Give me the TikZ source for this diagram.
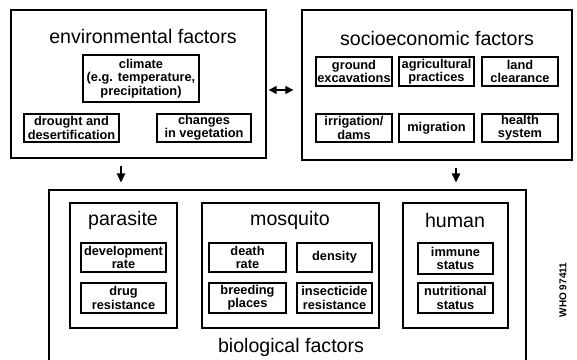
\documentclass[tikz,border=0pt]{standalone}
\usepackage{fontspec}
\setmainfont{Liberation Sans}
\usetikzlibrary{arrows.meta}
\tikzset{
  outer/.style={draw, line width=1.3pt, inner sep=0pt},
  inbox/.style={draw, line width=1.4pt, inner sep=0pt, align=center,
    font=\fontsize{12.8}{13.2}\selectfont\bfseries},
  ttl/.style={inner sep=0pt, font=\fontsize{19.6}{22}\selectfont},
  arr/.style={line width=1.3pt, -{Triangle[length=9pt,width=8.5pt]}},
  darr/.style={line width=1.3pt, {Triangle[length=8pt,width=8pt]}-{Triangle[length=8pt,width=8pt]}}
}
\begin{document}
\begin{tikzpicture}[x=1pt,y=-1pt]
\useasboundingbox (0,0) rectangle (577,359);
\clip (0,0) rectangle (577,359);
% environmental
\node[outer, minimum width=255pt, minimum height=148pt] (env) at (138.5,84) {};
\node[ttl] (envt) at (143,36) {environmental factors};
\node[inbox, minimum width=116pt, minimum height=47pt] (clim) at (141,78.5) {climate\\(e.g. temperature,\\precipitation)};
\node[inbox, minimum width=95pt, minimum height=28pt] (drou) at (71.5,128) {drought and\\desertification};
\node[inbox, minimum width=94pt, minimum height=28pt] (chg) at (204,128) {changes\\in vegetation};
% socioeconomic
\node[outer, minimum width=270pt, minimum height=150pt] (soc) at (437,85) {};
\node[ttl] (soct) at (437,38) {socioeconomic factors};
\node[inbox, minimum width=76pt, minimum height=29pt] (grd) at (354,71.5) {ground\\excavations};
\node[inbox, minimum width=75pt, minimum height=29pt] (agr) at (436.5,71.5) {agricultural\\practices};
\node[inbox, minimum width=76pt, minimum height=29pt] (lnd) at (520,71.5) {land\\clearance};
\node[inbox, minimum width=76pt, minimum height=28pt] (irr) at (354,128) {irrigation/\\dams};
\node[inbox, minimum width=75pt, minimum height=28pt] (mig) at (436.5,128) {migration};
\node[inbox, minimum width=76pt, minimum height=28pt] (hea) at (520,128) {health\\system};
% biological
\node[outer, minimum width=477pt, minimum height=174pt] (bio) at (287.5,277) {};
\node[ttl] (biot) at (291,347) {biological factors};
\node[outer, minimum width=107pt, minimum height=125pt] (par) at (123.5,265.5) {};
\node[ttl] (part) at (123,220) {parasite};
\node[inbox, minimum width=85pt, minimum height=29pt] (dev) at (123.5,257.5) {development\\rate};
\node[inbox, minimum width=85pt, minimum height=30pt] (drug) at (123.5,298) {drug\\resistance};
\node[outer, minimum width=177pt, minimum height=125pt] (mos) at (290.5,265.5) {};
\node[ttl] (most) at (290,220) {mosquito};
\node[inbox, minimum width=77pt, minimum height=29pt] (dth) at (247.5,257.5) {death\\rate};
\node[inbox, minimum width=77pt, minimum height=30pt] (brd) at (247.5,298) {breeding\\places};
\node[inbox, minimum width=75pt, minimum height=29pt] (den) at (334.5,257.5) {density};
\node[inbox, minimum width=75pt, minimum height=30pt] (ins) at (334.5,298) {insecticide\\resistance};
\node[outer, minimum width=105pt, minimum height=125pt] (hum) at (455.5,265.5) {};
\node[ttl] (humt) at (455,220) {human};
\node[inbox, minimum width=75pt, minimum height=31pt] (imm) at (455.5,258.5) {immune\\status};
\node[inbox, minimum width=75pt, minimum height=30pt] (nut) at (455.5,298) {nutritional\\status};
% code
\node[rotate=90, inner sep=0pt, font=\fontsize{10}{12}\selectfont\bfseries] (code) at (563,290) {WHO 97411};
% connectors
\draw[darr, shorten <=2pt, shorten >=8pt] (env.east |- 0,90) -- (soc.west |- 0,90);
\draw[arr, shorten <=7pt, shorten >=7pt] ([xshift=-17.5pt]env.south) -- ([xshift=-17.5pt]env.south |- bio.north);
\draw[arr, shorten <=7pt, shorten >=7pt] ([xshift=19pt]soc.south) -- ([xshift=19pt]soc.south |- bio.north);
\end{tikzpicture}
\end{document}
